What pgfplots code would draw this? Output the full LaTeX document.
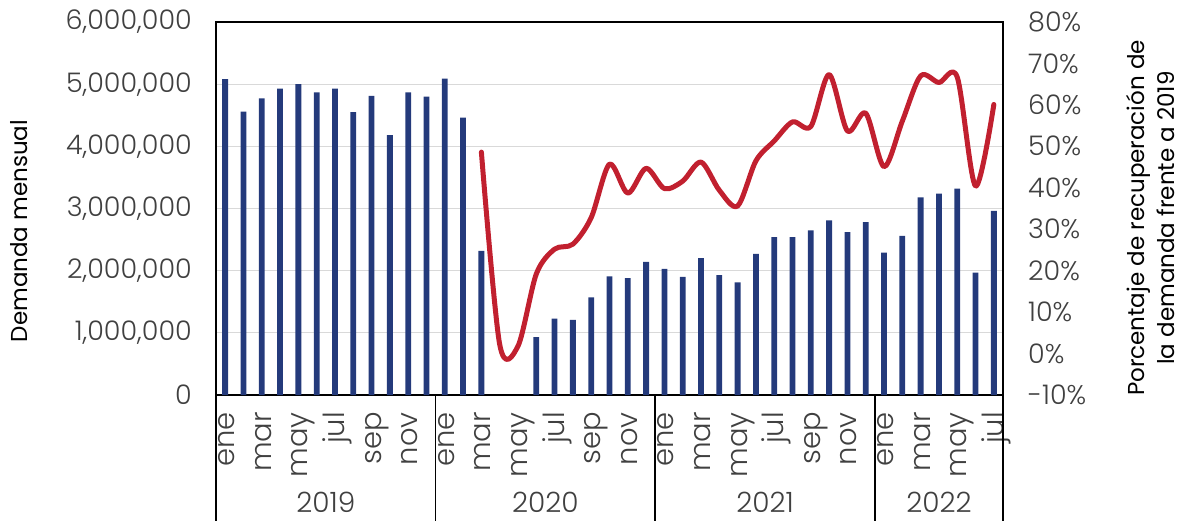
\documentclass[border=0pt]{standalone}
\usepackage{fontspec}
\setmainfont{Poppins}
\newfontfamily\lightfont{Poppins Light}
\usepackage{pgfplots}
\pgfplotsset{compat=1.18}
\definecolor{barblue}{HTML}{243A7B}
\definecolor{linered}{HTML}{C1202F}
\definecolor{tickgray}{HTML}{404040}

\pgfplotstableread{
x y
0 5080000
1 4560000
2 4770000
3 4930000
4 5000000
5 4870000
6 4930000
7 4550000
8 4810000
9 4180000
10 4870000
11 4800000
12 5090000
13 4460000
14 2320000
17 930000
18 1230000
19 1210000
20 1570000
21 1910000
22 1880000
23 2140000
24 2030000
25 1900000
26 2200000
27 1930000
28 1810000
29 2270000
30 2540000
31 2540000
32 2650000
33 2810000
34 2620000
35 2780000
36 2290000
37 2560000
38 3180000
39 3240000
40 3320000
41 1970000
42 2960000
}\demanda

\pgfplotstableread{
x p
14 48.6
15 2.2
16 1.8
17 19.2
18 25.2
19 26.4
20 32.8
21 45.7
22 38.7
23 44.7
24 39.8
25 41.6
26 46.2
27 39.4
28 35.6
29 46.5
30 51.3
31 55.9
32 54.8
33 67.3
34 53.7
35 58.0
36 45.1
37 56.1
38 67.0
39 65.4
40 66.7
41 40.4
42 60.1
}\recup

\begin{document}
\begin{tikzpicture}
\path[use as bounding box] (-216pt,-125pt) rectangle (971pt,395pt);
\begin{axis}[
  scale only axis, width=787pt, height=373pt,
  at={(0,0)}, anchor=south west,
  xmin=-0.5, xmax=42.5, ymin=0, ymax=6000000,
  ytick={0,1000000,2000000,3000000,4000000,5000000,6000000},
  yticklabels={0,{1,000,000},{2,000,000},{3,000,000},{4,000,000},{5,000,000},{6,000,000}},
  scaled y ticks=false,
  xtick={0,2,...,42},
  xticklabels={ene,mar,may,jul,sep,nov,ene,mar,may,jul,sep,nov,ene,mar,may,jul,sep,nov,ene,mar,may,jul},
  major tick length=0pt,
  ymajorgrids, grid style={draw=black!15, line width=1.2pt},
  axis line style={black, line width=1.6pt},
  yticklabel style={font=\lightfont\fontsize{27}{32}\selectfont, text=tickgray, inner sep=0pt, xshift=-24pt},
  xticklabel style={font=\lightfont\fontsize{29}{34}\selectfont, text=tickgray, inner sep=0pt, xshift=9.5pt, yshift=-17pt, rotate=90, anchor=base east},
  clip=false,
]
\addplot[ybar, bar width=5.8pt, fill=barblue, draw=none] table[x=x,y=y]{\demanda};
\draw[line width=1.6pt, black] (axis cs:-0.5,0) -- ([yshift=-130pt]axis cs:-0.5,0);
\draw[line width=1.6pt, black] (axis cs:11.5,0) -- ([yshift=-130pt]axis cs:11.5,0);
\draw[line width=1.6pt, black] (axis cs:23.5,0) -- ([yshift=-130pt]axis cs:23.5,0);
\draw[line width=1.6pt, black] (axis cs:35.5,0) -- ([yshift=-130pt]axis cs:35.5,0);
\draw[line width=1.6pt, black] (axis cs:42.5,0) -- ([yshift=-130pt]axis cs:42.5,0);
\node[font=\lightfont\fontsize{28}{32}\selectfont, text=tickgray, anchor=base] at ([yshift=-117pt]axis cs:5.5,0) {2019};
\node[font=\lightfont\fontsize{28}{32}\selectfont, text=tickgray, anchor=base] at ([yshift=-117pt]axis cs:17.5,0) {2020};
\node[font=\lightfont\fontsize{28}{32}\selectfont, text=tickgray, anchor=base] at ([yshift=-117pt]axis cs:29.5,0) {2021};
\node[font=\lightfont\fontsize{28}{32}\selectfont, text=tickgray, anchor=base] at ([yshift=-117pt]axis cs:39,0) {2022};
\end{axis}
\begin{axis}[
  scale only axis, width=787pt, height=373pt,
  at={(0,0)}, anchor=south west,
  xmin=-0.5, xmax=42.5, ymin=-10, ymax=80,
  axis x line=none,
  axis y line*=right,
  y axis line style={draw=none},
  ytick={-10,0,10,20,30,40,50,60,70,80},
  yticklabels={-10\%,0\%,10\%,20\%,30\%,40\%,50\%,60\%,70\%,80\%},
  major tick length=0pt,
  yticklabel style={font=\lightfont\fontsize{27}{32}\selectfont, text=tickgray, inner sep=0pt, xshift=25pt, anchor=west},
  clip=false,
]
\addplot[linered, line width=5pt, smooth, line cap=round, line join=round] table[x=x,y=p]{\recup};
\end{axis}
\node[rotate=90, font=\fontsize{23}{28}\selectfont, inner sep=0pt] at (-197pt,164pt) {Demanda mensual};
\node[rotate=90, align=center, font=\fontsize{23}{30}\selectfont, inner sep=0pt] at (935pt,177pt) {Porcentaje de recuperación de\\la demanda frente a 2019};
\end{tikzpicture}
\end{document}
